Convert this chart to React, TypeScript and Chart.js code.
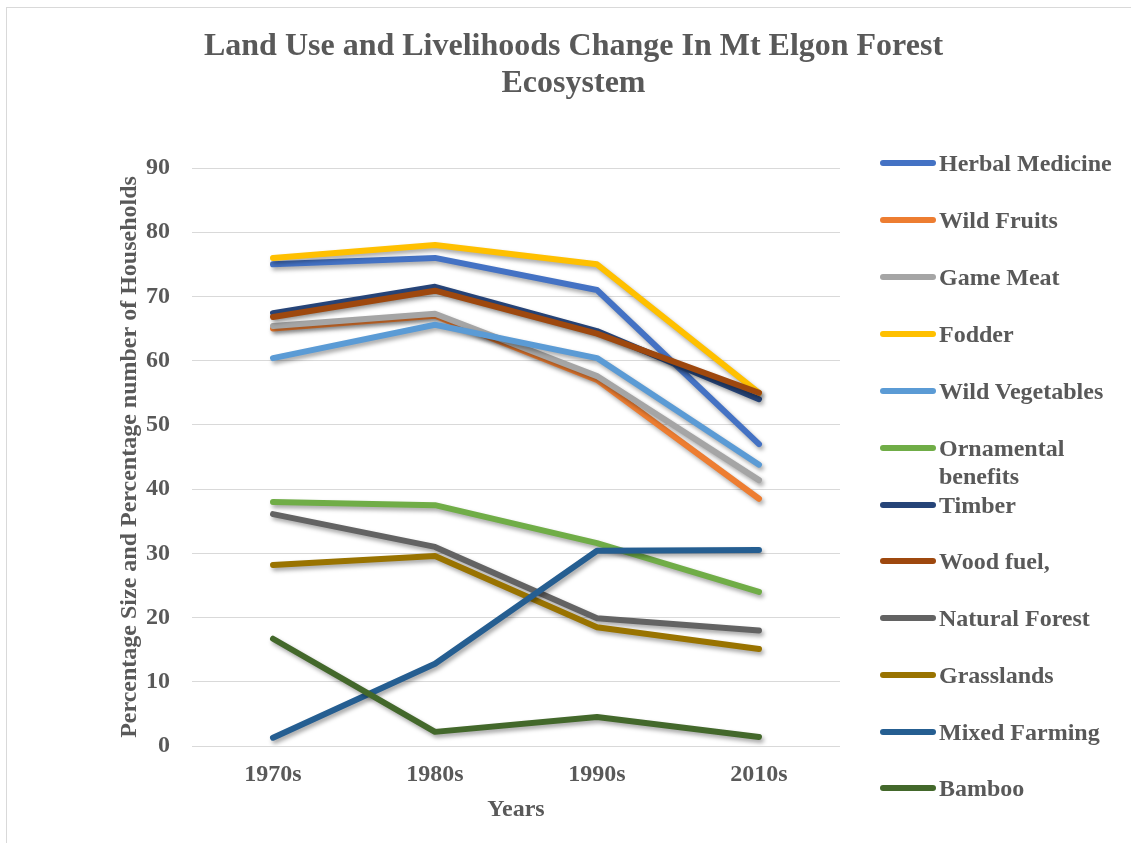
import React, { useEffect, useRef } from "react";
import { Chart, registerables } from "chart.js";

Chart.register(...registerables);

const categories = ["1970s", "1980s", "1990s", "2010s"];
const seriesNames = [
  "Herbal Medicine",
  "Wild Fruits",
  "Game Meat",
  "Fodder",
  "Wild Vegetables",
  "Ornamental benefits",
  "Timber",
  "Wood fuel,",
  "Natural Forest",
  "Grasslands",
  "Mixed Farming",
  "Bamboo",
];
const herbalMedicine = [75, 76, 71, 47];
const wildFruits = [65, 67, 57, 38.5];
const gameMeat = [65.4, 67.3, 57.6, 41.4];
const fodder = [76, 78, 75, 55];
const wildVegetables = [60.4, 65.6, 60.4, 43.8];
const ornamentalBenefits = [38, 37.5, 31.6, 24];
const timber = [67.4, 71.5, 64.6, 54];
const woodFuel = [66.8, 70.9, 64.2, 55];
const naturalForest = [36.1, 31, 19.9, 18];
const grasslands = [28.2, 29.6, 18.5, 15.1];
const mixedFarming = [1.3, 12.8, 30.4, 30.5];
const bamboo = [16.7, 2.2, 4.5, 1.4];
const seriesValues = [
  herbalMedicine,
  wildFruits,
  gameMeat,
  fodder,
  wildVegetables,
  ornamentalBenefits,
  timber,
  woodFuel,
  naturalForest,
  grasslands,
  mixedFarming,
  bamboo,
];
const seriesColors = [
  "#4472C4",
  "#ED7D31",
  "#A5A5A5",
  "#FFC000",
  "#5B9BD5",
  "#70AD47",
  "#264478",
  "#9E480E",
  "#636363",
  "#997300",
  "#255E91",
  "#43682B",
];
const legendCenters = [156, 213, 270, 327, 384, 441, 498, 554, 611, 668, 725, 781];

const FONT = "'Liberation Serif', 'Times New Roman', serif";
const TEXT = "#595959";

const shadowPlugin = {
  id: "lineShadow",
  beforeDatasetsDraw(chart: any) {
    const ctx = chart.ctx;
    ctx.save();
    ctx.shadowColor = "rgba(0,0,0,0.35)";
    ctx.shadowBlur = 4;
    ctx.shadowOffsetX = 2;
    ctx.shadowOffsetY = 3;
  },
  afterDatasetsDraw(chart: any) {
    chart.ctx.restore();
  },
};

export default function App() {
  const ref = useRef<HTMLCanvasElement>(null);

  useEffect(() => {
    if (!ref.current) return;
    const n = seriesNames.length;
    const chart = new Chart(ref.current, {
      type: "line",
      data: {
        labels: categories,
        datasets: seriesNames.map((name, i) => ({
          label: name,
          data: seriesValues[i],
          borderColor: seriesColors[i],
          backgroundColor: seriesColors[i],
          borderWidth: 6,
          borderCapStyle: "round" as const,
          borderJoinStyle: "round" as const,
          pointRadius: 0,
          tension: 0,
          fill: false,
          order: n - i,
        })),
      },
      plugins: [shadowPlugin],
      options: {
        animation: false,
        responsive: false,
        maintainAspectRatio: false,
        layout: { padding: { left: 10, right: 0, top: 0, bottom: 0 } },
        plugins: {
          legend: { display: false },
          tooltip: { enabled: false },
          title: {
            display: true,
            text: ["Land Use and Livelihoods Change In Mt Elgon Forest", "Ecosystem"],
            color: TEXT,
            font: { family: FONT, size: 32, weight: "bold", lineHeight: 1.15 },
            padding: { top: 21.6, bottom: 65.8 },
          },
        },
        scales: {
          x: {
            offset: true,
            grid: { display: false, drawTicks: false, tickLength: 0 },
            border: { display: false },
            ticks: {
              color: TEXT,
              font: { family: FONT, size: 24, weight: "bold" },
              padding: 14,
              maxRotation: 0,
            },
            title: {
              display: true,
              text: "Years",
              color: TEXT,
              font: { family: FONT, size: 24, weight: "bold" },
              padding: { top: 0, bottom: 18.6 },
            },
            afterFit(scale: any) {
              scale.height = 97;
            },
          },
          y: {
            min: 0,
            max: 90,
            grid: { color: "#D9D9D9", lineWidth: 1, drawTicks: false, tickLength: 0 },
            border: { display: false },
            ticks: {
              stepSize: 10,
              color: TEXT,
              font: { family: FONT, size: 24, weight: "bold" },
              padding: 22,
            },
            title: {
              display: true,
              text: "Percentage Size and Percentage number of Households",
              color: TEXT,
              font: { family: FONT, size: 24, weight: "bold" },
              padding: { top: 99.6, bottom: 0 },
            },
            afterFit(scale: any) {
              scale.width = 176;
            },
          },
          yRight: {
            type: "linear",
            position: "right",
            min: 0,
            max: 90,
            grid: { display: false, drawTicks: false },
            border: { display: false },
            ticks: { display: false },
            afterFit(scale: any) {
              scale.width = 291;
            },
          },
        },
      },
    });
    return () => chart.destroy();
  }, []);

  return (
    <div
      style={{
        position: "absolute",
        left: 6,
        top: 7,
        width: 1125,
        height: 836,
        borderTop: "1px solid #D9D9D9",
        borderLeft: "1px solid #D9D9D9",
        boxSizing: "border-box",
        background: "#FFFFFF",
      }}
    >
      <canvas ref={ref} width={1125} height={836} style={{ position: "absolute", left: -1, top: -1 }} />
      {seriesNames.map((name, i) => (
        <div
          key={name}
          style={{
            position: "absolute",
            left: 873,
            top: legendCenters[i] - 14 - 1,
            display: "flex",
            alignItems: "flex-start",
          }}
        >
          <div
            style={{
              width: 56,
              height: 6,
              marginTop: 11,
              borderRadius: 3,
              background: seriesColors[i],
            }}
          />
          <div
            style={{
              marginLeft: 3,
              width: 185,
              fontFamily: FONT,
              fontSize: 24,
              fontWeight: "bold",
              lineHeight: "28px",
              color: TEXT,
            }}
          >
            {name}
          </div>
        </div>
      ))}
    </div>
  );
}
